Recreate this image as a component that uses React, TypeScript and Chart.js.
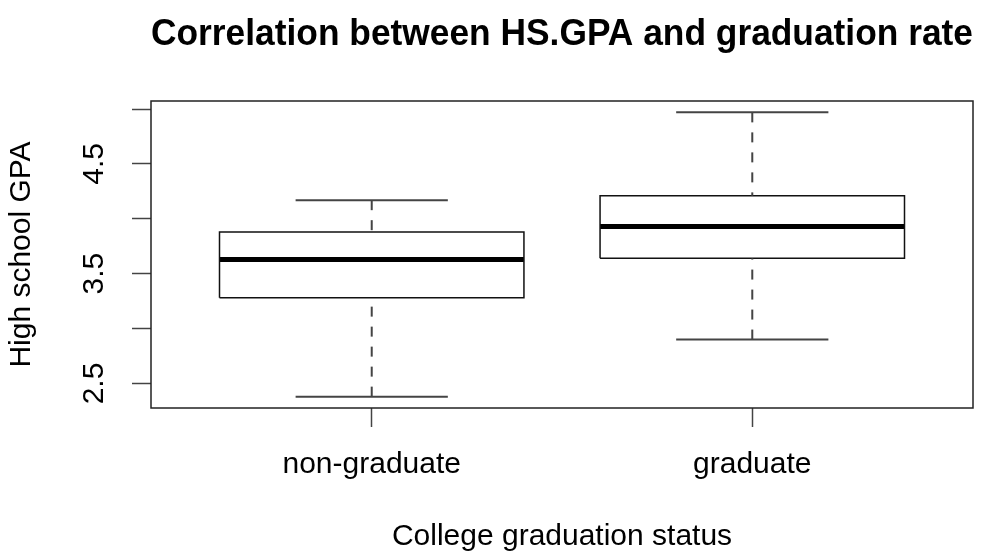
import React, { useEffect, useRef } from 'react';
import { Chart, registerables } from 'chart.js';

Chart.register(...registerables);

const TITLE = 'Correlation between HS.GPA and graduation rate';
const X_TITLE = 'College graduation status';
const Y_TITLE = 'High school GPA';
const CATEGORIES = ['non-graduate', 'graduate'];
const WHISKER_LOW = [2.38, 2.9];
const Q1 = [3.28, 3.64];
const MEDIAN = [3.63, 3.93];
const Q3 = [3.88, 4.21];
const WHISKER_HIGH = [4.17, 4.97];
const Y_TICKS = [2.5, 3, 3.5, 4, 4.5, 5];
const Y_TICK_LABELS = ['2.5', '', '3.5', '', '4.5', ''];

const W = 986;
const H = 555;
const BOX_HALF = 0.4;
const STAPLE_HALF = 0.2;
const FONT = "'Liberation Sans', Arial, Helvetica, sans-serif";
const INK = '#111';
const LINE = '#444';

const framePlugin = {
  id: 'frame',
  afterDatasetsDraw(chart: any) {
    const { ctx, chartArea: a } = chart;
    ctx.save();
    ctx.strokeStyle = '#222';
    ctx.lineWidth = 1.5;
    ctx.strokeRect(a.left, a.top, a.right - a.left, a.bottom - a.top);
    ctx.restore();
  },
};

export default function App() {
  const ref = useRef<HTMLCanvasElement>(null);

  useEffect(() => {
    document.body.style.margin = '0';
    document.body.style.overflow = 'hidden';
    const canvas = ref.current;
    if (!canvas) return;

    const datasets: any[] = [];
    const seg = (pts: number[][], extra: any) => {
      datasets.push({
        data: pts.map(([px, py]) => ({ x: px, y: py })),
        borderColor: LINE,
        borderWidth: 1.5,
        pointRadius: 0,
        pointHoverRadius: 0,
        fill: false,
        tension: 0,
        borderCapStyle: 'butt',
        borderJoinStyle: 'miter',
        ...extra,
      });
    };

    CATEGORIES.forEach((_, i) => {
      const x = i + 1;
      // whiskers (drawn from extreme toward box, like R)
      seg([[x, WHISKER_LOW[i]], [x, Q1[i]]], { borderDash: [10, 10], borderWidth: 2 });
      seg([[x, WHISKER_HIGH[i]], [x, Q3[i]]], { borderDash: [10, 10], borderWidth: 2 });
      // staples
      seg([[x - STAPLE_HALF, WHISKER_LOW[i]], [x + STAPLE_HALF, WHISKER_LOW[i]]], { borderWidth: 2 });
      seg([[x - STAPLE_HALF, WHISKER_HIGH[i]], [x + STAPLE_HALF, WHISKER_HIGH[i]]], { borderWidth: 2 });
      // box
      seg(
        [
          [x - BOX_HALF, Q1[i]],
          [x + BOX_HALF, Q1[i]],
          [x + BOX_HALF, Q3[i]],
          [x - BOX_HALF, Q3[i]],
          [x - BOX_HALF, Q1[i]],
        ],
        { borderColor: INK, borderWidth: 1.5 }
      );
      // median
      seg([[x - BOX_HALF, MEDIAN[i]], [x + BOX_HALF, MEDIAN[i]]], { borderColor: '#000', borderWidth: 5 });
    });

    const yLo = Math.min(...WHISKER_LOW);
    const yHi = Math.max(...WHISKER_HIGH);
    const yPad = 0.04 * (yHi - yLo);
    const xLo = 0.5;
    const xHi = CATEGORIES.length + 0.5;
    const xPad = 0.04 * (xHi - xLo);

    const chart = new Chart(canvas, {
      type: 'line',
      data: { datasets },
      plugins: [framePlugin],
      options: {
        responsive: false,
        animation: false,
        devicePixelRatio: 1,
        events: [],
        layout: { padding: { left: 0, right: 13, top: 0, bottom: 0 } },
        plugins: {
          legend: { display: false },
          tooltip: { enabled: false },
          title: { display: false },
        },
        scales: {
          x: {
            type: 'linear',
            position: 'bottom',
            min: xLo - xPad,
            max: xHi + xPad,
            afterBuildTicks: (s: any) => {
              s.ticks = CATEGORIES.map((_, i) => ({ value: i + 1 }));
            },
            afterFit: (s: any) => {
              s.height = 147;
            },
            grid: {
              drawOnChartArea: false,
              drawTicks: true,
              tickLength: 19,
              tickColor: LINE,
              tickWidth: 1.5,
            },
            border: { display: false },
            ticks: {
              autoSkip: false,
              maxRotation: 0,
              minRotation: 0,
              padding: 20,
              color: '#000',
              font: { family: FONT, size: 30 },
              callback: (_v: any, idx: number) => CATEGORIES[idx],
            },
            title: {
              display: true,
              text: X_TITLE,
              color: '#000',
              font: { family: FONT, size: 30 },
              padding: { top: 0, bottom: 0 },
            },
          },
          xTop: {
            type: 'linear',
            position: 'top',
            min: xLo - xPad,
            max: xHi + xPad,
            afterFit: (s: any) => {
              s.height = 101;
            },
            grid: { display: false },
            border: { display: false },
            ticks: { display: false },
            title: {
              display: true,
              text: TITLE,
              color: '#000',
              font: { family: FONT, size: 36.6, weight: 'bold' },
              padding: { top: 13, bottom: 0 },
            },
          },
          y: {
            type: 'linear',
            position: 'left',
            min: yLo - yPad,
            max: yHi + yPad,
            afterBuildTicks: (s: any) => {
              s.ticks = Y_TICKS.map((v) => ({ value: v }));
            },
            afterFit: (s: any) => {
              s.width = 151;
            },
            grid: {
              drawOnChartArea: false,
              drawTicks: true,
              tickLength: 19,
              tickColor: LINE,
              tickWidth: 1.5,
            },
            border: { display: false },
            ticks: {
              autoSkip: false,
              minRotation: 90,
              maxRotation: 90,
              crossAlign: 'center',
              padding: 16,
              color: '#000',
              font: { family: FONT, size: 30 },
              callback: (_v: any, idx: number) => Y_TICK_LABELS[idx],
            },
            title: {
              display: true,
              text: Y_TITLE,
              color: '#000',
              font: { family: FONT, size: 30 },
              padding: { top: 4, bottom: 0 },
            },
          },
        },
      } as any,
    });

    return () => chart.destroy();
  }, []);

  return (
    <div style={{ width: W, height: H, background: '#fff' }}>
      <canvas ref={ref} width={W} height={H} style={{ display: 'block', width: W, height: H }} />
    </div>
  );
}
